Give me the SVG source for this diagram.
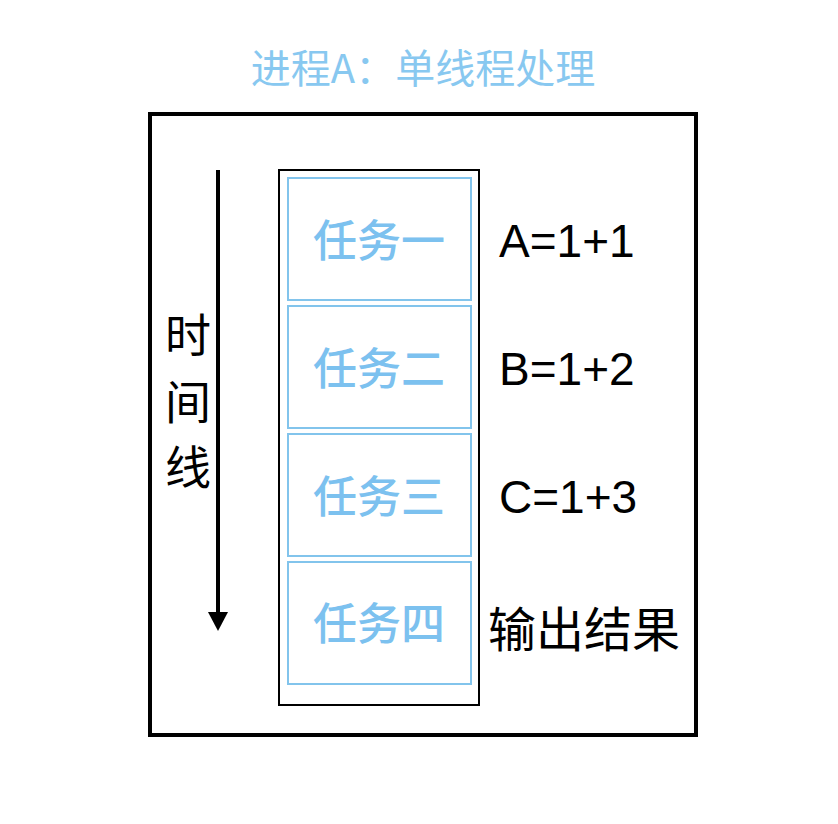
<svg xmlns="http://www.w3.org/2000/svg" width="838" height="824" viewBox="0 0 838 824">
  <defs>
    <style>
      .cjk { font-family: "Noto Sans CJK SC", "Noto Sans", sans-serif; }
      .title { font-size: 40px; fill: #88c8f0; }
      .task-box { fill: #ffffff; stroke: #82c4ec; stroke-width: 2; }
      .task-text { font-size: 44px; font-weight: 500; fill: #7cc1ef; text-anchor: middle; }
      .label { font-family: "Liberation Sans", Arial, sans-serif; font-size: 46px; fill: #000000; }
      .label-cjk { font-size: 48px; fill: #000000; }
      .axis-text { font-size: 46px; fill: #000000; text-anchor: middle; }
    </style>
    <marker id="arrowhead" markerUnits="userSpaceOnUse" markerWidth="20" markerHeight="20" refX="0" refY="10" orient="auto" viewBox="0 0 20 20">
      <polygon points="0,0 19,10 0,20" fill="#000000"/>
    </marker>
  </defs>
  <rect width="838" height="824" fill="#ffffff"/>

  <g id="title">
    <text class="cjk title" x="423" y="83" text-anchor="middle">进程A：单线程处理</text>
  </g>

  <g id="process-frame">
    <rect x="150" y="114" width="546" height="621" fill="none" stroke="#000000" stroke-width="4"/>
  </g>

  <g id="thread-column">
    <rect x="279" y="170" width="200" height="535" fill="none" stroke="#000000" stroke-width="2"/>
  </g>

  <g id="task-1">
    <rect class="task-box" x="288" y="178" width="183" height="122"/>
    <text class="cjk task-text" x="379" y="257">任务一</text>
  </g>
  <g id="task-2">
    <rect class="task-box" x="288" y="306" width="183" height="122"/>
    <text class="cjk task-text" x="379" y="385">任务二</text>
  </g>
  <g id="task-3">
    <rect class="task-box" x="288" y="434" width="183" height="122"/>
    <text class="cjk task-text" x="379" y="513">任务三</text>
  </g>
  <g id="task-4">
    <rect class="task-box" x="288" y="562" width="183" height="122"/>
    <text class="cjk task-text" x="379" y="640">任务四</text>
  </g>

  <g id="result-labels">
    <text class="label" x="499" y="257">A=1+1</text>
    <text class="label" x="499" y="385">B=1+2</text>
    <text class="label" x="499" y="513">C=1+3</text>
    <text class="cjk label-cjk" x="488" y="647">输出结果</text>
  </g>

  <g id="timeline-label">
    <text class="cjk axis-text" x="188" y="352">时</text>
    <text class="cjk axis-text" x="188" y="419">间</text>
    <text class="cjk axis-text" x="188" y="484">线</text>
  </g>

  <g id="connectors">
    <line x1="218" y1="170" x2="218" y2="612" stroke="#000000" stroke-width="4" marker-end="url(#arrowhead)"/>
  </g>
</svg>
